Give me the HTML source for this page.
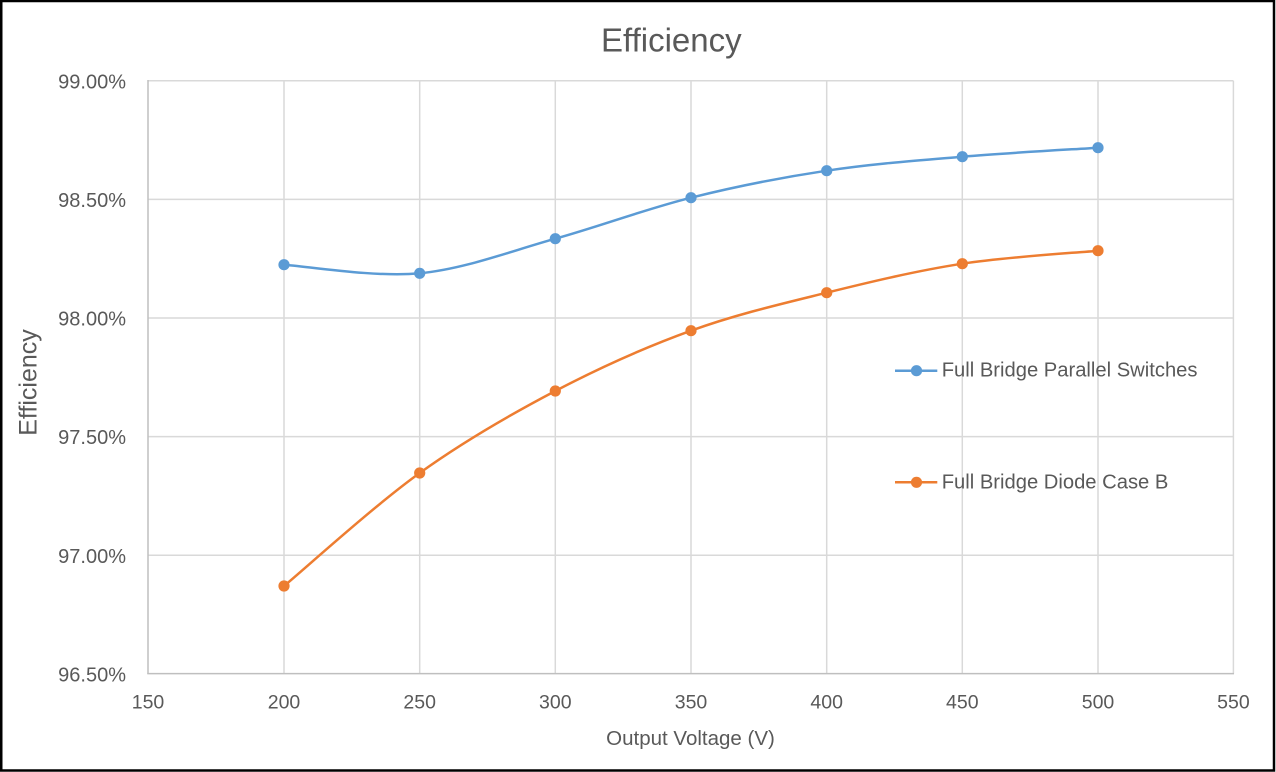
<!DOCTYPE html>
<html>
<head>
<meta charset="utf-8">
<style>
  html, body { margin: 0; padding: 0; background: #fff; }
  body { width: 1276px; height: 772px; overflow: hidden; position: relative; }
  svg { position: absolute; left: 0; top: 0; }
  text { font-family: "Liberation Sans", sans-serif; fill: #595959; }
</style>
</head>
<body>
<svg width="1276" height="772" viewBox="0 0 1276 772" xmlns="http://www.w3.org/2000/svg">
  <rect x="0" y="0" width="1276" height="772" fill="#ffffff"/>
  <!-- outer border -->
  <rect x="1.25" y="1" width="1272.75" height="769.5" fill="none" stroke="#000" stroke-width="2.5"/>

  <!-- title -->
  <text x="671.3" y="51.7" font-size="33" text-anchor="middle">Efficiency</text>

  <!-- horizontal gridlines -->
  <g stroke="#d9d9d9" stroke-width="1.5">
    <line x1="148" y1="80.7" x2="1233.4" y2="80.7"/>
    <line x1="148" y1="199.35" x2="1233.4" y2="199.35"/>
    <line x1="148" y1="318" x2="1233.4" y2="318"/>
    <line x1="148" y1="436.65" x2="1233.4" y2="436.65"/>
    <line x1="148" y1="555.3" x2="1233.4" y2="555.3"/>
    <!-- vertical gridlines -->
    <line x1="284" y1="80.7" x2="284" y2="673.6"/>
    <line x1="419.7" y1="80.7" x2="419.7" y2="673.6"/>
    <line x1="555.3" y1="80.7" x2="555.3" y2="673.6"/>
    <line x1="691" y1="80.7" x2="691" y2="673.6"/>
    <line x1="826.7" y1="80.7" x2="826.7" y2="673.6"/>
    <line x1="962.3" y1="80.7" x2="962.3" y2="673.6"/>
    <line x1="1098" y1="80.7" x2="1098" y2="673.6"/>
    <line x1="1233.4" y1="80.7" x2="1233.4" y2="673.6"/>
  </g>
  <!-- axes -->
  <g stroke="#bfbfbf" stroke-width="1.5">
    <line x1="148" y1="80" x2="148" y2="674"/>
    <line x1="147.3" y1="673.6" x2="1234" y2="673.6"/>
  </g>

  <!-- y tick labels -->
  <g font-size="20" text-anchor="end">
    <text x="126" y="88.3">99.00%</text>
    <text x="126" y="206.9">98.50%</text>
    <text x="126" y="325.5">98.00%</text>
    <text x="126" y="444.2">97.50%</text>
    <text x="126" y="562.8">97.00%</text>
    <text x="126" y="681.4">96.50%</text>
  </g>

  <!-- x tick labels -->
  <g font-size="19.5" text-anchor="middle">
    <text x="148" y="708.3">150</text>
    <text x="284" y="708.3">200</text>
    <text x="419.7" y="708.3">250</text>
    <text x="555.3" y="708.3">300</text>
    <text x="691" y="708.3">350</text>
    <text x="826.7" y="708.3">400</text>
    <text x="962.3" y="708.3">450</text>
    <text x="1098" y="708.3">500</text>
    <text x="1233.4" y="708.3">550</text>
  </g>

  <!-- axis titles -->
  <text x="690.5" y="745" font-size="20.5" text-anchor="middle">Output Voltage (V)</text>
  <text transform="translate(36.5,382.5) rotate(-90)" font-size="25" text-anchor="middle">Efficiency</text>

  <!-- blue series -->
  <path d="M284,264.7 C306.61,266.13 374.48,277.63 419.7,273.3 C464.92,268.97 510.08,251.3 555.3,238.7 C600.52,226.1 645.78,209.03 691,197.7 C736.22,186.37 781.48,177.53 826.7,170.7 C871.92,163.87 917.08,160.53 962.3,156.7 C1007.52,152.87 1075.39,149.2 1098,147.7"
        fill="none" stroke="#5B9BD5" stroke-width="2.5" stroke-linecap="round" stroke-linejoin="round"/>
  <g fill="#5B9BD5">
    <circle cx="284" cy="264.7" r="5.6"/>
    <circle cx="419.7" cy="273.3" r="5.6"/>
    <circle cx="555.3" cy="238.7" r="5.6"/>
    <circle cx="691" cy="197.7" r="5.6"/>
    <circle cx="826.7" cy="170.7" r="5.6"/>
    <circle cx="962.3" cy="156.7" r="5.6"/>
    <circle cx="1098" cy="147.7" r="5.6"/>
  </g>

  <!-- orange series -->
  <path d="M284,586 C306.61,567.17 374.48,505.5 419.7,473 C464.92,440.5 510.08,414.72 555.3,391 C600.52,367.28 645.78,347.08 691,330.7 C736.22,314.32 781.48,303.87 826.7,292.7 C871.92,281.53 917.08,270.7 962.3,263.7 C1007.52,256.7 1075.39,252.87 1098,250.7"
        fill="none" stroke="#ED7D31" stroke-width="2.5" stroke-linecap="round" stroke-linejoin="round"/>
  <g fill="#ED7D31">
    <circle cx="284" cy="586" r="5.6"/>
    <circle cx="419.7" cy="473" r="5.6"/>
    <circle cx="555.3" cy="391" r="5.6"/>
    <circle cx="691" cy="330.7" r="5.6"/>
    <circle cx="826.7" cy="292.7" r="5.6"/>
    <circle cx="962.3" cy="263.7" r="5.6"/>
    <circle cx="1098" cy="250.7" r="5.6"/>
  </g>

  <!-- legend -->
  <line x1="895" y1="370.7" x2="937.3" y2="370.7" stroke="#5B9BD5" stroke-width="2.5"/>
  <circle cx="916.5" cy="370.7" r="5.6" fill="#5B9BD5"/>
  <text x="941.7" y="376.7" font-size="20.2">Full Bridge Parallel Switches</text>

  <line x1="895" y1="482.3" x2="937.3" y2="482.3" stroke="#ED7D31" stroke-width="2.5"/>
  <circle cx="916.5" cy="482.3" r="5.6" fill="#ED7D31"/>
  <text x="941.7" y="488.3" font-size="20.2">Full Bridge Diode Case B</text>
</svg>
</body>
</html>
